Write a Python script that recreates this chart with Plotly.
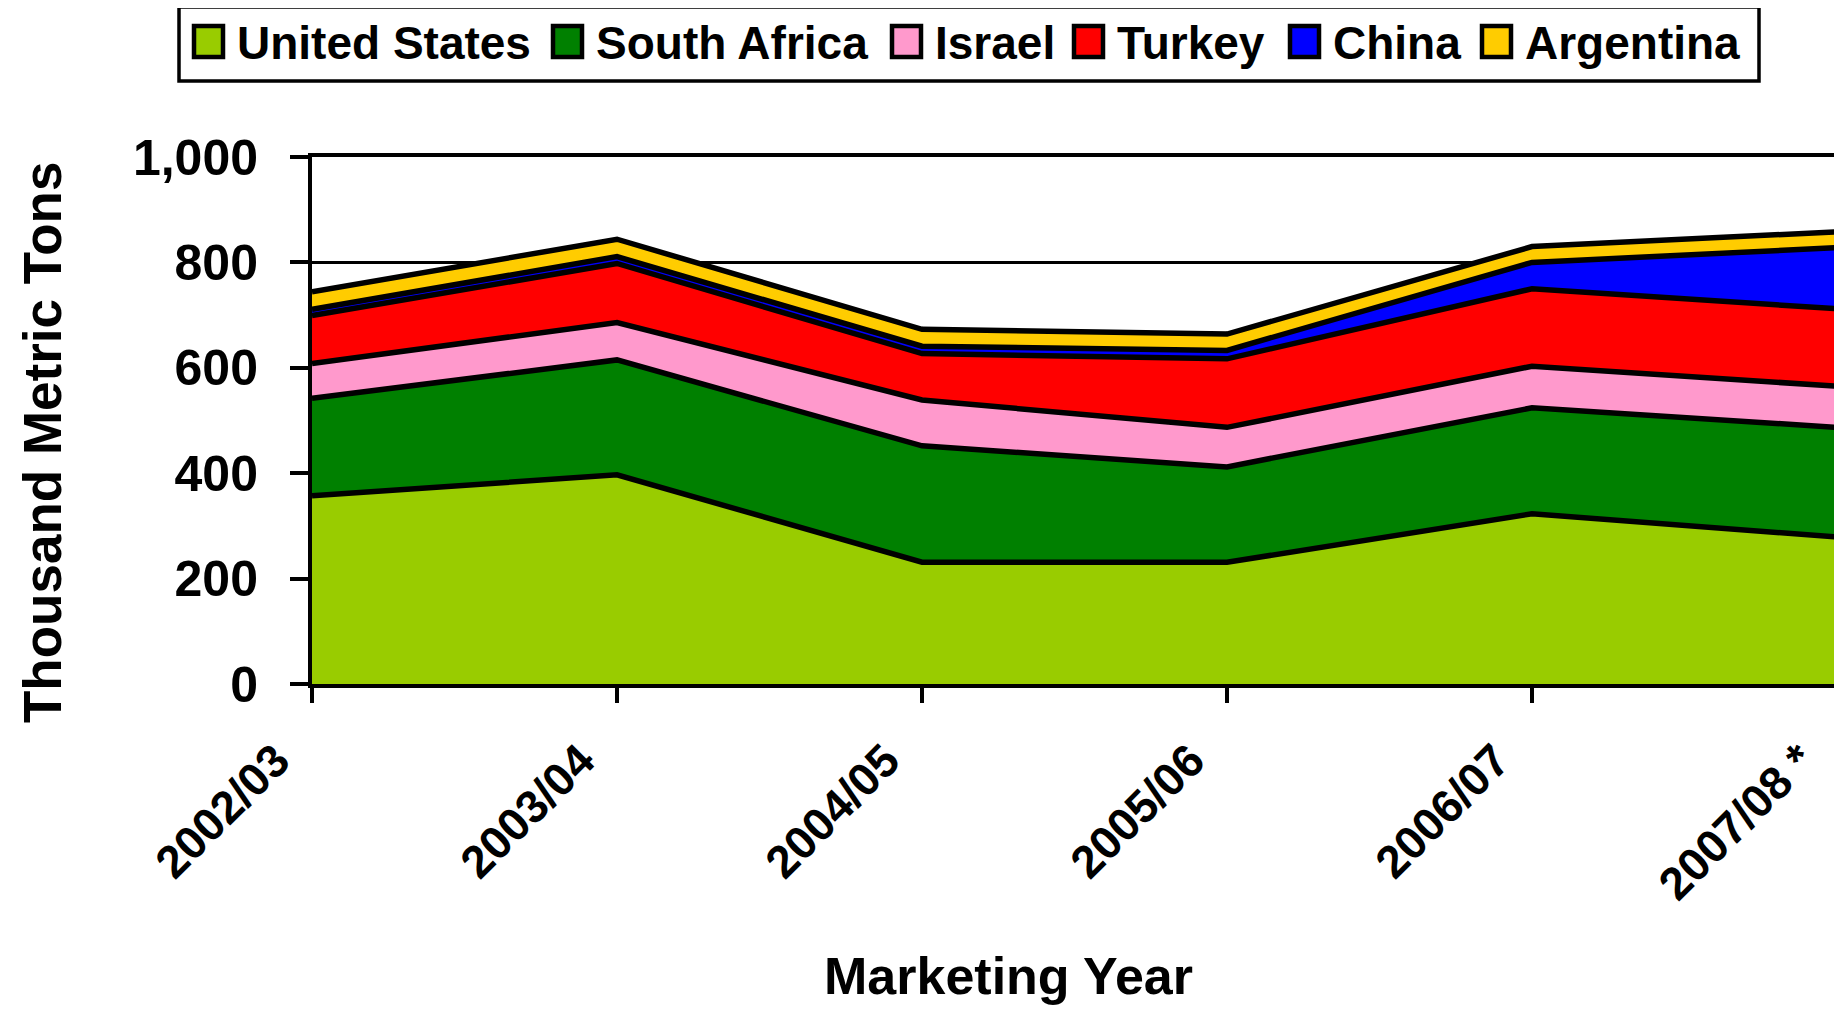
import plotly.graph_objects as go

# ---------------- data ----------------
years = ["2002/03", "2003/04", "2004/05", "2005/06", "2006/07", "2007/08 *"]
united_states = [357, 397, 231, 231, 323, 279]
south_africa = [185, 218, 221, 181, 201, 208]
israel = [66, 71, 87, 75, 79, 78]
turkey = [91, 112, 88, 130, 147, 147]
china = [12, 13, 14, 16, 50, 116]
argentina = [33, 33, 32, 31, 30, 30]

series_names = ["United States", "South Africa", "Israel", "Turkey", "China", "Argentina"]
series_values = [united_states, south_africa, israel, turkey, china, argentina]
series_colors = ["#99CC00", "#008000", "#FF99CC", "#FF0000", "#0000FF", "#FFCC00"]

y_ticks = [0, 200, 400, 600, 800, 1000]

# ---------------- layout constants (page pixels) ----------------
OFF = 8                      # default body margin of the page
PAGE_W, PAGE_H = 1842, 1013
W, H = PAGE_W - OFF, PAGE_H - OFF
PL, PR, PT, PB = 312, 1837, 157, 684   # plot area in page pixels
L, R, T, B = PL - OFF, PR - OFF, PT - OFF, PB - OFF
FONT = "Liberation Sans, Arial, sans-serif"


def xp(px):
    return (px - PL) / (PR - PL)


def yp(py):
    return (PB - py) / (PB - PT)


fig = go.Figure()
for name, vals, col in zip(series_names, series_values, series_colors):
    fig.add_trace(go.Scatter(
        x=years, y=vals, name=name, mode="lines",
        stackgroup="one", fillcolor=col,
        line=dict(color="black", width=5.5),
        showlegend=False,
    ))

# ---------------- manual legend (large square swatches) ----------------
legend_text_x = [238, 597, 936, 1118, 1334, 1526]
shapes = [dict(type="rect", xref="paper", yref="paper",
               x0=xp(179), x1=xp(1759), y0=yp(7), y1=yp(81),
               line=dict(color="black", width=3.5), fillcolor="white", layer="above")]
annotations = []
for name, col, tx in zip(series_names, series_colors, legend_text_x):
    shapes.append(dict(type="rect", xref="paper", yref="paper",
                       x0=xp(tx - 44), x1=xp(tx - 15), y0=yp(26), y1=yp(57),
                       line=dict(color="black", width=4.5), fillcolor=col, layer="above"))
    annotations.append(dict(text=name, xref="paper", yref="paper",
                            x=xp(tx - 3), y=yp(43), xanchor="left", yanchor="middle",
                            showarrow=False,
                            font=dict(family=FONT, size=46, color="black", weight="bold")))

# axis titles
annotations.append(dict(text="Marketing Year", xref="paper", yref="paper",
                        x=xp(1008), y=yp(976), xanchor="center", yanchor="middle",
                        showarrow=False,
                        font=dict(family=FONT, size=52, color="black", weight="bold")))
annotations.append(dict(text="Thousand Metric Tons", xref="paper", yref="paper",
                        x=xp(42), y=yp(443), xanchor="center", yanchor="middle",
                        textangle=-90, showarrow=False,
                        font=dict(family=FONT, size=53, color="black", weight="bold")))

fig.update_layout(
    width=W, height=H,
    margin=dict(l=L, r=W - R, t=T, b=H - B, pad=0, autoexpand=False),
    paper_bgcolor="white", plot_bgcolor="white",
    showlegend=False,
    shapes=shapes,
    annotations=annotations,
    xaxis=dict(
        type="category", range=[0, len(years) - 1], automargin=False,
        showline=True, linecolor="black", linewidth=4, mirror=True,
        ticks="outside", ticklen=15, tickwidth=3.5, tickcolor="black",
        tickangle=-45, showgrid=False, zeroline=False,
        ticklabelstandoff=12, ticklabelshift=-36,
        tickfont=dict(family=FONT, size=46, color="black", weight="bold"),
    ),
    yaxis=dict(
        range=[0, 1000], tickvals=y_ticks, tickformat=",", automargin=False,
        showline=True, linecolor="black", linewidth=4, mirror=True,
        ticks="outside", ticklen=18, tickwidth=3.5, tickcolor="black",
        showgrid=True, gridcolor="black", gridwidth=3, zeroline=False,
        ticklabelstandoff=22,
        tickfont=dict(family=FONT, size=50, color="black", weight="bold"),
    ),
)

fig.write_html("out.html")
